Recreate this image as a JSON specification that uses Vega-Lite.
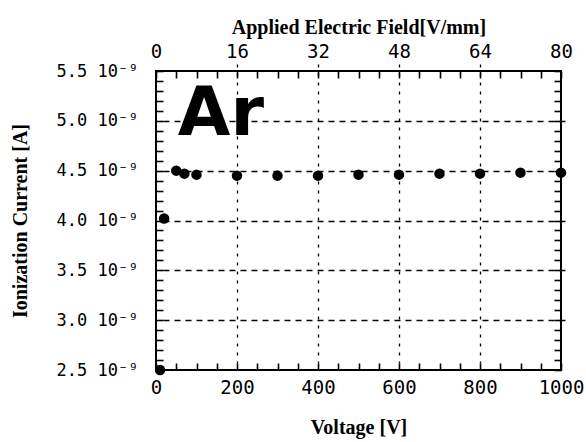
{
  "$schema": "https://vega.github.io/schema/vega-lite/v6.json",
  "width": 405,
  "height": 299,
  "autosize": "none",
  "padding": {"left": 156, "top": 71, "right": 25, "bottom": 72},
  "background": "white",
  "config": {
    "view": {"stroke": "black", "strokeWidth": 2},
    "axis": {
      "domain": false,
      "offset": -7,
      "zindex": 1,
      "ticks": true,
      "tickColor": "black",
      "tickWidth": 1.6,
      "tickSize": 7,
      "labelColor": "black",
      "titleColor": "black",
      "titleFont": "Liberation Serif",
      "titleFontWeight": "bold",
      "titleFontSize": 20,
      "labelFont": "DejaVu Sans Mono",
      "gridColor": "black",
      "gridWidth": 1.3
    }
  },
  "data": {
    "values": [
      {"voltage": 10, "current": 2.5},
      {"voltage": 20, "current": 4.02},
      {"voltage": 50, "current": 4.5},
      {"voltage": 70, "current": 4.47},
      {"voltage": 100, "current": 4.46},
      {"voltage": 200, "current": 4.45},
      {"voltage": 300, "current": 4.45},
      {"voltage": 400, "current": 4.45},
      {"voltage": 500, "current": 4.46},
      {"voltage": 600, "current": 4.46},
      {"voltage": 700, "current": 4.47},
      {"voltage": 800, "current": 4.47},
      {"voltage": 900, "current": 4.48},
      {"voltage": 1000, "current": 4.48}
    ]
  },
  "resolve": {"axis": {"x": "independent", "y": "independent"}},
  "layer": [
    {
      "mark": {"type": "point", "filled": true, "color": "black", "size": 110, "opacity": 1},
      "encoding": {
        "x": {
          "field": "voltage",
          "type": "quantitative",
          "scale": {"domain": [0, 1000], "nice": false, "zero": false},
          "axis": {
            "orient": "bottom",
            "title": "Voltage [V]",
            "values": [0,50,100,150,200,250,300,350,400,450,500,550,600,650,700,750,800,850,900,950,1000],
            "labelExpr": "datum.value % 200 == 0 ? format(datum.value, 'd') : ''",
            "labelFontSize": 19,
            "labelPadding": 8,
            "labelFlush": false,
            "labelOverlap": false,
            "titlePadding": 20,
            "grid": true,
            "gridDash": [3, 6],
            "gridOpacity": {"condition": {"test": "datum.value % 200 == 0 && datum.value > 0 && datum.value < 1000", "value": 1}, "value": 0}
          }
        },
        "y": {
          "field": "current",
          "type": "quantitative",
          "scale": {"domain": [2.5, 5.5], "nice": false, "zero": false},
          "axis": {
            "orient": "left",
            "title": "Ionization Current [A]",
            "values": [2.5,2.6,2.7,2.8,2.9,3.0,3.1,3.2,3.3,3.4,3.5,3.6,3.7,3.8,3.9,4.0,4.1,4.2,4.3,4.4,4.5,4.6,4.7,4.8,4.9,5.0,5.1,5.2,5.3,5.4,5.5],
            "labelExpr": "round(datum.value * 10) % 5 == 0 ? format(datum.value, '.1f') + ' 10⁻⁹' : ''",
            "labelFontSize": 17,
            "labelPadding": 18,
            "labelFlush": false,
            "labelOverlap": false,
            "titlePadding": 26,
            "grid": true,
            "gridDash": [6, 5],
            "gridOpacity": {"condition": {"test": "round(datum.value * 10) % 5 == 0 && datum.value > 2.6 && datum.value < 5.4", "value": 1}, "value": 0}
          }
        }
      }
    },
    {
      "mark": {"type": "point", "opacity": 0},
      "encoding": {
        "x": {
          "field": "voltage",
          "type": "quantitative",
          "scale": {"domain": [0, 1000], "nice": false, "zero": false},
          "axis": {
            "orient": "top",
            "title": "Applied Electric Field[V/mm]",
            "values": [0,50,100,150,200,250,300,350,400,450,500,550,600,650,700,750,800,850,900,950,1000],
            "labelExpr": "datum.value % 200 == 0 ? format(datum.value / 12.5, 'd') : ''",
            "labelFontSize": 19,
            "labelPadding": 10,
            "labelFlush": false,
            "labelOverlap": false,
            "titlePadding": 5,
            "grid": false
          }
        },
        "y": {
          "field": "current",
          "type": "quantitative",
          "scale": {"domain": [2.5, 5.5], "nice": false, "zero": false},
          "axis": {
            "orient": "right",
            "title": null,
            "values": [2.5,2.6,2.7,2.8,2.9,3.0,3.1,3.2,3.3,3.4,3.5,3.6,3.7,3.8,3.9,4.0,4.1,4.2,4.3,4.4,4.5,4.6,4.7,4.8,4.9,5.0,5.1,5.2,5.3,5.4,5.5],
            "labels": false,
            "grid": false
          }
        }
      }
    },
    {
      "data": {"values": [{"label": "Ar", "voltage": 54, "current": 4.86}]},
      "mark": {"type": "text", "font": "DejaVu Sans", "fontWeight": "bold", "fontSize": 68, "align": "left", "baseline": "alphabetic", "color": "black"},
      "encoding": {
        "x": {"field": "voltage", "type": "quantitative", "axis": null},
        "y": {"field": "current", "type": "quantitative", "axis": null},
        "text": {"field": "label"}
      }
    }
  ]
}
